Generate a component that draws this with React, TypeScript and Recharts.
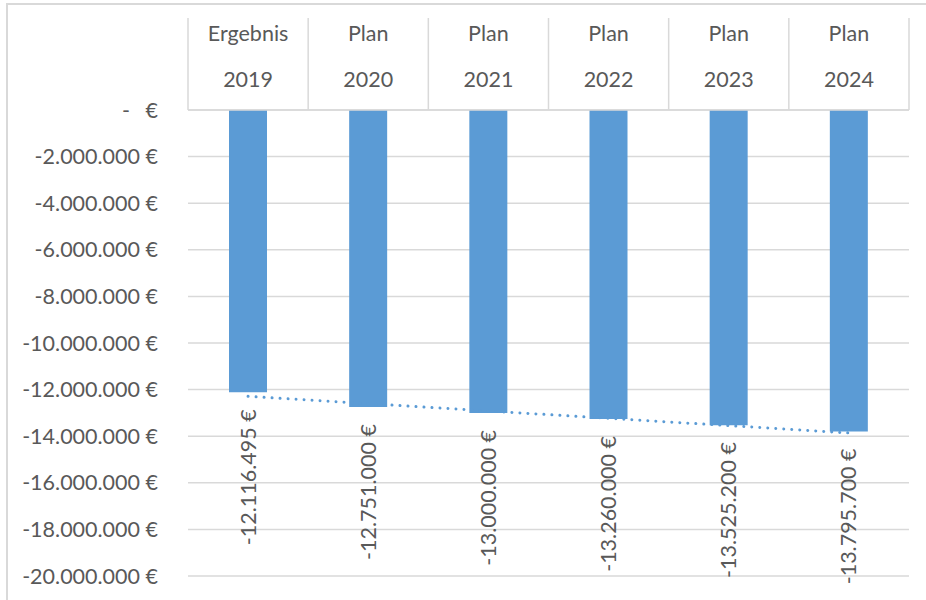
import { BarChart, Bar, XAxis, YAxis, CartesianGrid, LabelList, ReferenceLine } from "recharts";

const categories = ["Ergebnis 2019", "Plan 2020", "Plan 2021", "Plan 2022", "Plan 2023", "Plan 2024"];
const values = [-12116495, -12751000, -13000000, -13260000, -13525200, -13795700];
const yTicks = [0, -2000000, -4000000, -6000000, -8000000, -10000000, -12000000, -14000000, -16000000, -18000000, -20000000];
// linear trendline ends
const trendEnds = [-12290000, -13860000];

const data = categories.map((name, i) => ({ name, value: values[i] }));

const FONT = "Lato, sans-serif";
const FS = 21.5;
const TEXT = "#595959";
const BLUE = "#5B9BD5";
const GRID = "#d9d9d9";
const PLOT_LEFT = 188;
const PLOT_RIGHT = 909;
const BAND = (PLOT_RIGHT - PLOT_LEFT) / categories.length;

function fmt(v: number): string {
  const s = Math.abs(Math.round(v)).toString().replace(/\B(?=(\d{3})+(?!\d))/g, ".");
  return (v < 0 ? "-" : "") + s + " €";
}

function CategoryTick(props: any) {
  const { x, y, payload, index } = props;
  const [l1, l2] = String(payload.value).split(" ");
  const left = x - BAND / 2;
  return (
    <g>
      <line x1={left} y1={y - 92} x2={left} y2={y} stroke={GRID} strokeWidth={1.5} />
      {index === categories.length - 1 && (
        <line x1={left + BAND} y1={y - 92} x2={left + BAND} y2={y} stroke={GRID} strokeWidth={1.5} />
      )}
      <text x={x} y={y - 69} textAnchor="middle" fill={TEXT} fontSize={FS} fontFamily={FONT}>
        {l1}
      </text>
      <text x={x} y={y - 23} textAnchor="middle" fill={TEXT} fontSize={FS} fontFamily={FONT}>
        {l2}
      </text>
    </g>
  );
}

function ValueTick(props: any) {
  const { y, payload } = props;
  const v = payload.value as number;
  if (v === 0) {
    return (
      <g>
        <text x={130} y={y} dy="0.35em" textAnchor="end" fill={TEXT} fontSize={FS} fontFamily={FONT}>-</text>
        <text x={158} y={y} dy="0.35em" textAnchor="end" fill={TEXT} fontSize={FS} fontFamily={FONT}>€</text>
      </g>
    );
  }
  return (
    <text x={158} y={y} dy="0.35em" textAnchor="end" fill={TEXT} fontSize={FS} fontFamily={FONT}>
      {fmt(v)}
    </text>
  );
}

function BarLabel(props: any) {
  const { x, y, width, height, value } = props;
  const cx = x + width / 2;
  const cy = Math.max(y, y + height) + 17;
  return (
    <text
      x={cx}
      y={cy}
      dy="0.35em"
      transform={`rotate(-90, ${cx}, ${cy})`}
      textAnchor="end"
      fill={TEXT}
      fontSize={FS}
      fontFamily={FONT}
    >
      {fmt(value)}
    </text>
  );
}

export default function App() {
  return (
    <div style={{ position: "absolute", left: 0, top: 0, width: 926, height: 600, overflow: "hidden", background: "#fff" }}>
      <div
        style={{
          position: "absolute",
          left: 6,
          top: 3,
          width: 940,
          height: 620,
          border: `2px solid ${GRID}`,
          boxSizing: "border-box",
        }}
      />
      <div style={{ position: "absolute", left: 0, top: 0 }}>
        <BarChart
          width={926}
          height={600}
          data={data}
          margin={{ top: 18, right: 926 - PLOT_RIGHT, bottom: 24, left: 0 }}
        >
          <CartesianGrid vertical={false} stroke={GRID} strokeWidth={1.5} />
          <XAxis
            dataKey="name"
            orientation="top"
            height={92}
            tickLine={false}
            tickSize={0}
            tickMargin={0}
            axisLine={{ stroke: GRID, strokeWidth: 1.5 }}
            tick={<CategoryTick />}
            interval={0}
          />
          <YAxis
            width={PLOT_LEFT}
            domain={[-20000000, 0]}
            ticks={yTicks}
            tickLine={false}
            axisLine={false}
            tick={<ValueTick />}
            interval={0}
          />
          <Bar dataKey="value" fill={BLUE} barSize={38} isAnimationActive={false}>
            <LabelList dataKey="value" content={<BarLabel />} />
          </Bar>
          <ReferenceLine
            segment={[
              { x: categories[0], y: trendEnds[0] },
              { x: categories[categories.length - 1], y: trendEnds[1] },
            ]}
            stroke={BLUE}
            strokeWidth={3}
            strokeDasharray="0.01 8"
            strokeLinecap="round"
            ifOverflow="visible"
          />
        </BarChart>
      </div>
    </div>
  );
}
